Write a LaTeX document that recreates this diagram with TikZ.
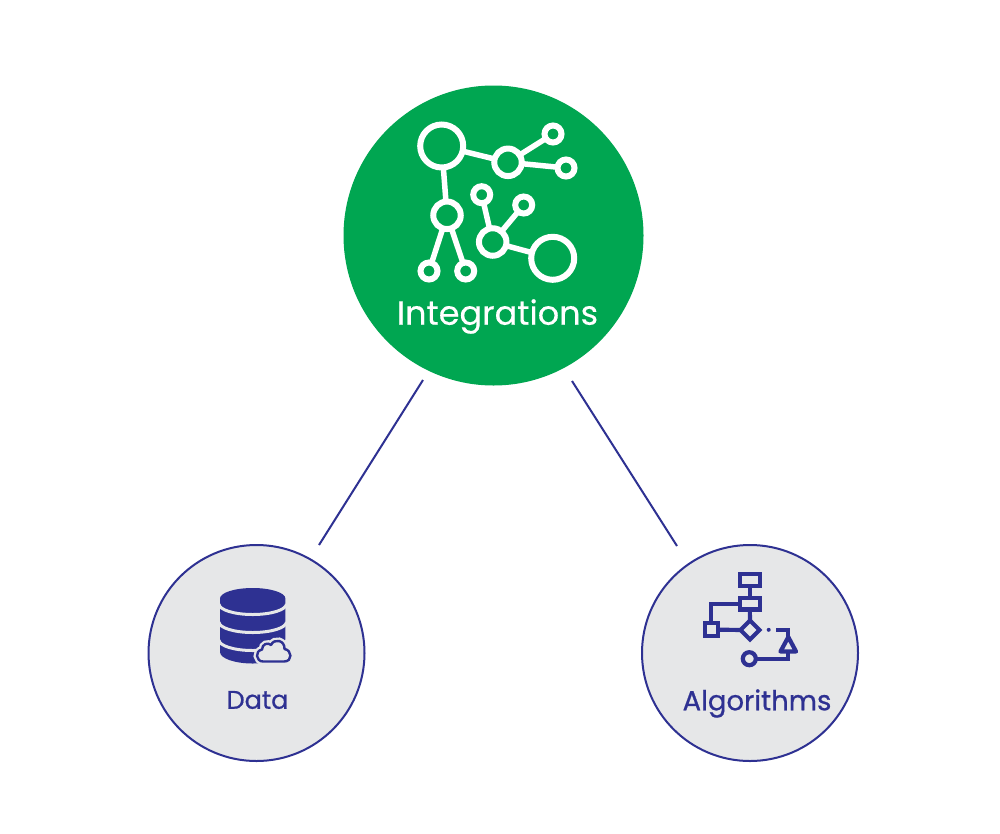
\documentclass[tikz,border=0pt]{standalone}
\usepackage{fontspec}
\usetikzlibrary{shapes.geometric}
\setmainfont{Poppins}
\newfontfamily\medfont[FakeBold=0.35]{Poppins}
\newfontfamily\strongfont[FakeBold=0.7]{Poppins}
\definecolor{grn}{HTML}{00A651}
\definecolor{navy}{HTML}{2E3192}
\definecolor{pale}{HTML}{E6E7E8}
\begin{document}
\begin{tikzpicture}[x=1pt,y=-1pt,
  bigc/.style={circle,draw=white,line width=6pt,inner sep=0pt,minimum size=43pt,outer sep=0pt},
  midc/.style={circle,draw=white,line width=6pt,inner sep=0pt,minimum size=27.5pt,outer sep=0pt},
  smallc/.style={circle,draw=white,line width=6pt,inner sep=0pt,minimum size=17pt,outer sep=0pt},
  wlink/.style={draw=white,line width=5.5pt},
  lowc/.style={circle,draw=navy,fill=pale,line width=2pt,inner sep=0pt,minimum size=216pt},
  lbl/.style={text=navy,inner sep=0pt,anchor=center},
  conn/.style={draw=navy,line width=2pt},
  flow/.style={draw=navy,line width=4.2pt,line join=miter,fill=none},
  box/.style={rectangle,draw=navy,line width=4.2pt,inner sep=0pt,outer sep=0pt}]
\useasboundingbox (0,0) rectangle (1000,833);
\fill[white] (0,0) rectangle (1000,833);
% main circles
\node[circle,fill=grn,inner sep=0pt,minimum size=300pt] (hub) at (493.5,235.5) {};
\node[lowc] (data) at (256.5,653) {};
\node[lowc] (algo) at (750,653) {};
% connectors
\coordinate (c1a) at (423,380); \coordinate (c1b) at (319,545);
\coordinate (c2a) at (572,381); \coordinate (c2b) at (677,546);
\draw[conn] (c1a) -- (c1b);
\draw[conn] (c2a) -- (c2b);
% network icon
\node[bigc] (n1) at (441.7,146) {};
\node[midc] (n2) at (508,162.3) {};
\node[smallc] (n3) at (553,134) {};
\node[smallc] (n4) at (566,168) {};
\node[midc] (n5) at (447,215.3) {};
\node[smallc] (n6) at (429,271) {};
\node[smallc] (n7) at (465.7,271) {};
\node[smallc] (n8) at (481.7,194.7) {};
\node[smallc] (n9) at (523.7,205) {};
\node[midc] (n10) at (492.7,242) {};
\node[bigc] (n11) at (552.7,258.3) {};
\draw[wlink] (n1) -- (n2);
\draw[wlink] (n2) -- (n3);
\draw[wlink] (n2) -- (n4);
\draw[wlink] (n1) -- (n5);
\draw[wlink] (n5) -- (n6);
\draw[wlink] (n5) -- (n7);
\draw[wlink] (n10) -- (n8);
\draw[wlink] (n10) -- (n9);
\draw[wlink] (n10) -- (n11);
\node[text=white,font=\medfont\fontsize{33.5}{38}\selectfont,inner sep=0pt] (t1) at (497.5,316.5) {Integrations};
% database icon
\fill[navy] (220,598.5) -- (220,652) arc[start angle=180,end angle=0,x radius=32.7,y radius=11.5] -- (285.4,598.5) arc[start angle=0,end angle=180,x radius=32.7,y radius=-10.5] -- cycle;
\draw[pale,line width=3pt] (219,604) arc[start angle=180,end angle=0,x radius=33.7,y radius=10.5];
\draw[pale,line width=3pt] (219,622) arc[start angle=180,end angle=0,x radius=33.7,y radius=10.5];
\draw[pale,line width=3pt] (219,640) arc[start angle=180,end angle=0,x radius=33.7,y radius=10.5];
\draw[navy,fill=pale,line width=2.4pt,line join=round,preaction={draw=pale,line width=7pt}]
  (263,661.5) .. controls (256,661.5) and (254.5,651) .. (262,649.5)
  .. controls (262,644) and (268,642) .. (271,645)
  .. controls (274,638) and (285,640) .. (284.5,649)
  .. controls (292,650) and (293,661.5) .. (284,661.5) -- cycle;
\node[lbl,font=\strongfont\fontsize{25.5}{28}\selectfont] (t2) at (257.5,700) {Data};
% flowchart icon
\node[box,minimum width=20pt,minimum height=11.5pt] (b1) at (749.8,580) {};
\node[box,minimum width=20pt,minimum height=11.5pt] (b2) at (749.8,603.8) {};
\node[box,minimum width=13pt,minimum height=13pt] (b3) at (711.3,629.7) {};
\node[diamond,draw=navy,line width=4.2pt,inner sep=0pt,minimum size=19pt,outer sep=0pt] (d1) at (750,630) {};
\node[circle,draw=navy,line width=4.2pt,inner sep=0pt,minimum size=13pt,outer sep=0pt] (c1) at (749.3,658.7) {};
\coordinate (apex) at (788.3,637);
\coordinate (tl) at (780.5,651.5);
\coordinate (tr) at (796,651.5);
\coordinate (tb) at (788.3,651.5);
\coordinate (dashs) at (776,630);
\coordinate (dashc) at (788.3,630);
\coordinate (bend) at (788.3,658.7);
\coordinate (dot) at (768.7,629.8);
\draw[navy,line width=4.2pt,line join=round] (apex) -- (tr) -- (tl) -- cycle;
\draw[flow] (b1) -- (b2);
\draw[flow] (b2) -- (d1);
\draw[flow] (b3) -- (d1);
\draw[flow] (b2.west) -| (b3.north);
\draw[flow] (dashs) -- (dashc) -- (apex);
\draw[flow] (tb) -- (bend) -- (c1);
\fill[navy] (dot) circle (2pt);
\node[lbl,font=\strongfont\fontsize{27.5}{30}\selectfont] (t3) at (757,703.5) {Algorithms};
\end{tikzpicture}
\end{document}
